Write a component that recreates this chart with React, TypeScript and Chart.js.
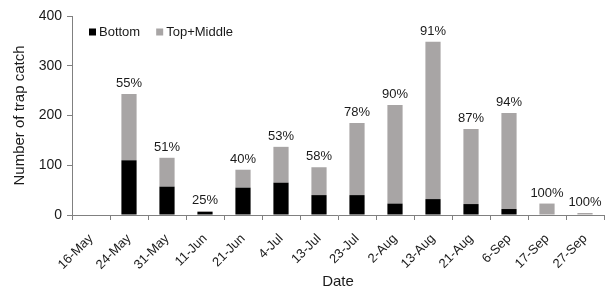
import React, { useEffect, useRef } from "react";
import { Chart, registerables } from "chart.js";

Chart.register(...registerables);

const dates = ["16-May", "24-May", "31-May", "11-Jun", "21-Jun", "4-Jul", "13-Jul", "23-Jul", "2-Aug", "13-Aug", "21-Aug", "6-Sep", "17-Sep", "27-Sep"];
const bottom = [0, 110, 57, 6, 55, 65, 40, 40, 23, 32, 22, 12, 0, 0];
const topMiddle = [0, 133, 58, 2, 36, 72, 56, 145, 198, 316, 151, 193, 23, 4];
const pctLabels = ["", "55%", "51%", "25%", "40%", "53%", "58%", "78%", "90%", "91%", "87%", "94%", "100%", "100%"];
const yTicks = [0, 100, 200, 300, 400];

const FONT = "'Liberation Sans', Arial, sans-serif";
const BLACK = "#000000";
const GRAY = "#a8a5a5";

const labelPlugin = {
  id: "pctLabels",
  afterDatasetsDraw(chart: any) {
    const ctx = chart.ctx;
    const meta = chart.getDatasetMeta(1);
    ctx.save();
    ctx.font = `13px ${FONT}`;
    ctx.fillStyle = "#1a1a1a";
    ctx.textAlign = "center";
    ctx.textBaseline = "bottom";
    meta.data.forEach((bar: any, i: number) => {
      const t = pctLabels[i];
      if (!t) return;
      ctx.fillText(t, bar.x, bar.y - 4);
    });
    // legend inside plot
    const a = chart.chartArea;
    const items = [
      { text: chart.data.datasets[0].label, color: BLACK },
      { text: chart.data.datasets[1].label, color: GRAY },
    ];
    let x = a.left + 17;
    const y = a.top + 16;
    ctx.textAlign = "left";
    ctx.textBaseline = "middle";
    items.forEach((it) => {
      ctx.fillStyle = it.color;
      ctx.fillRect(x, y - 3.5, 7, 7);
      x += 10;
      ctx.fillStyle = "#1a1a1a";
      ctx.fillText(it.text, x, y);
      x += ctx.measureText(it.text).width + 16;
    });
    ctx.restore();
  },
};

export default function App() {
  const ref = useRef<HTMLCanvasElement>(null);
  useEffect(() => {
    const chart = new Chart(ref.current!, {
      type: "bar",
      data: {
        labels: dates,
        datasets: [
          { label: "Bottom", data: bottom, backgroundColor: BLACK, categoryPercentage: 1, barPercentage: 0.4 },
          { label: "Top+Middle", data: topMiddle, backgroundColor: GRAY, categoryPercentage: 1, barPercentage: 0.4 },
        ],
      },
      options: {
        responsive: false,
        animation: false,
        layout: { padding: { left: 0, right: 4, top: 16, bottom: 0 } },
        plugins: { legend: { display: false }, tooltip: { enabled: false } },
        scales: {
          x: {
            stacked: true,
            border: { display: true, color: "#808080", width: 1 },
            grid: { display: true, drawOnChartArea: false, drawTicks: true, tickLength: 5, offset: true, color: "#808080" },
            ticks: { font: { family: FONT, size: 13 }, color: "#1a1a1a", maxRotation: 45, minRotation: 45, padding: 11 },
            title: { display: true, text: "Date", font: { family: FONT, size: 15 }, color: "#1a1a1a", padding: { top: 0, bottom: 2 } },
            afterFit: (s: any) => { s.height = 78; },
          },
          y: {
            stacked: true,
            min: 0,
            max: 400,
            afterBuildTicks: (s: any) => { s.ticks = yTicks.map((v) => ({ value: v })); },
            border: { display: true, color: "#808080", width: 1 },
            grid: { display: true, drawOnChartArea: false, drawTicks: true, tickLength: 5, color: "#808080" },
            ticks: { font: { family: FONT, size: 14 }, color: "#1a1a1a", padding: 5 },
            title: { display: true, text: "Number of trap catch", font: { family: FONT, size: 15 }, color: "#1a1a1a", padding: { top: 11, bottom: 0 } },
            afterFit: (s: any) => { s.width = 72; },
          },
        },
      },
      plugins: [labelPlugin],
    });
    return () => chart.destroy();
  }, []);
  return (
    <div style={{ position: "fixed", left: 0, top: 0, width: 608, height: 293, background: "#fff" }}>
      <canvas ref={ref} width={608} height={293} />
    </div>
  );
}
